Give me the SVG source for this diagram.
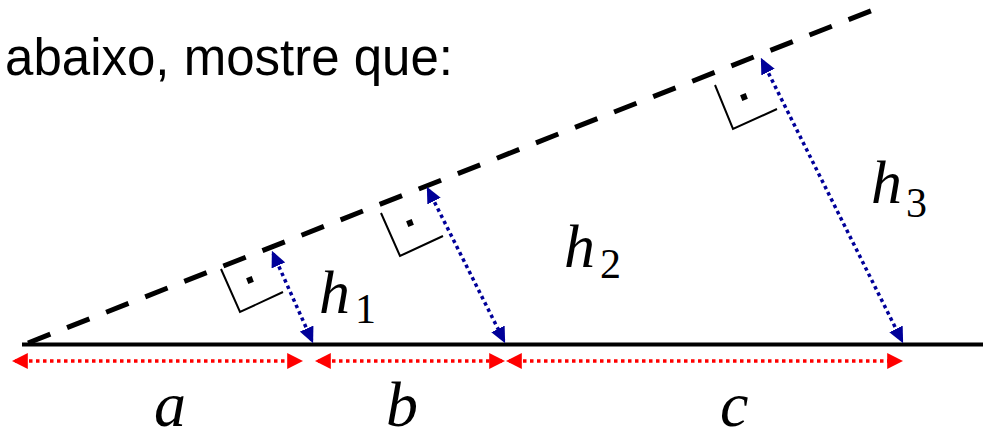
<svg xmlns="http://www.w3.org/2000/svg" width="983" height="440" viewBox="0 0 983 440">
<style>
.sans{font-family:"Liberation Sans",Arial,sans-serif;fill:#000}
.mi{font-family:"Liberation Serif","Times New Roman",serif;font-style:italic;fill:#000}
.mr{font-family:"Liberation Serif","Times New Roman",serif;fill:#000}
.red{stroke:#ff0000;stroke-width:3.5;stroke-dasharray:3.5 3.5;fill:none}
.blue{stroke:#000099;stroke-width:3.5;stroke-dasharray:3.5 3.5;fill:none}
.ra{stroke:#000;stroke-width:2;fill:none}
</style>
<defs>
<marker id="redHead" markerUnits="userSpaceOnUse" markerWidth="16" markerHeight="16" viewBox="0 0 15 15" refX="12" refY="7.5" orient="auto-start-reverse">
<path d="M0,0 L15,7.5 L0,15 z" fill="#ff0000"/>
</marker>
<marker id="blueHead" markerUnits="userSpaceOnUse" markerWidth="16" markerHeight="16" viewBox="0 0 15 15" refX="12" refY="7.5" orient="auto-start-reverse">
<path d="M0,0.5 L15,7.5 L0,14.5 z" fill="#000099"/>
</marker>
</defs>
<rect width="983" height="440" fill="#fff"/>
<text class="sans" x="453" y="75" font-size="51" text-anchor="end">abaixo, mostre que:</text>
<g id="baseline"><line x1="22" y1="344.5" x2="983" y2="344.5" stroke="#000" stroke-width="4"/></g>
<g id="oblique"><line x1="28" y1="343" x2="873" y2="10" stroke="#000" stroke-width="5" stroke-dasharray="24 18"/></g>
<g id="mark1"><polyline class="ra" points="221,269 240,312 283,292"/><rect x="247" y="277" width="6" height="6" transform="rotate(-21.5 250 280)"/></g>
<g id="mark2"><polyline class="ra" points="381,213 400,256 443,236"/><rect x="407" y="220" width="6" height="6" transform="rotate(-21.5 410 223)"/></g>
<g id="mark3"><polyline class="ra" points="715,85 733,129 777,109"/><rect x="741" y="94" width="6" height="6" transform="rotate(-21.5 744 97)"/></g>
<g id="connectors">
<line class="red" x1="15" y1="361" x2="300" y2="361" marker-start="url(#redHead)" marker-end="url(#redHead)"/>
<line class="red" x1="318" y1="361" x2="502" y2="361" marker-start="url(#redHead)" marker-end="url(#redHead)"/>
<line class="red" x1="509" y1="361" x2="900" y2="361" marker-start="url(#redHead)" marker-end="url(#redHead)"/>
<line class="blue" x1="273.2" y1="253.7" x2="311.8" y2="340.3" marker-start="url(#blueHead)" marker-end="url(#blueHead)"/>
<line class="blue" x1="428.3" y1="189.7" x2="503.7" y2="340.3" marker-start="url(#blueHead)" marker-end="url(#blueHead)"/>
<line class="blue" x1="762.3" y1="60.7" x2="901.7" y2="340.3" marker-start="url(#blueHead)" marker-end="url(#blueHead)"/>
</g>
<g id="label-h1"><text class="mi" x="319" y="313" font-size="62">h</text><text class="mr" x="355" y="323" font-size="42">1</text></g>
<g id="label-h2"><text class="mi" x="564" y="267" font-size="62">h</text><text class="mr" x="600" y="278" font-size="42">2</text></g>
<g id="label-h3"><text class="mi" x="871" y="203" font-size="62">h</text><text class="mr" x="906" y="217" font-size="42">3</text></g>
<g id="label-a"><text class="mi" x="154" y="426" font-size="64">a</text></g>
<g id="label-b"><text class="mi" x="386" y="426" font-size="64">b</text></g>
<g id="label-c"><text class="mi" x="720" y="426" font-size="64">c</text></g>
</svg>
